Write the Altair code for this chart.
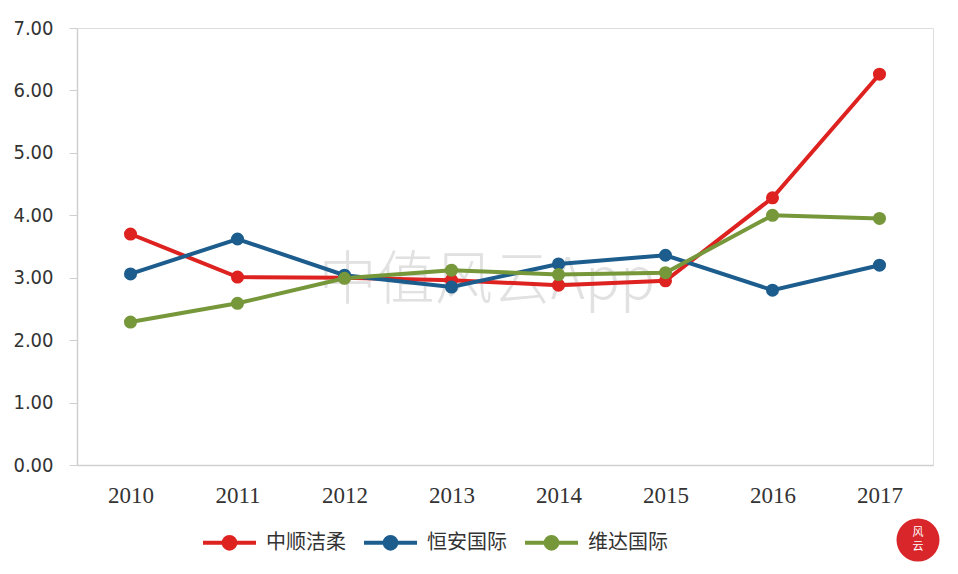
import altair as alt
import pandas as pd

years = ["2010", "2011", "2012", "2013", "2014", "2015", "2016", "2017"]
s_names = ["中顺洁柔", "恒安国际", "维达国际"]
zhongshun = [3.70, 3.01, 3.00, 2.96, 2.88, 2.95, 4.28, 6.26]
hengan = [3.06, 3.62, 3.04, 2.85, 3.22, 3.36, 2.80, 3.20]
vida = [2.29, 2.59, 2.99, 3.12, 3.05, 3.08, 4.00, 3.95]
colors = ["#DD2220", "#1C5D8E", "#76973A"]

rows = []
for name, vals in zip(s_names, [zhongshun, hengan, vida]):
    for y, v in zip(years, vals):
        rows.append({"year": y, "value": v, "series": name})
df = pd.DataFrame(rows)

legend_symbol = "M-1,0L-0.22,0M0.22,0L1,0M-0.22,0A0.22,0.22 0 1,1 0.22,0A0.22,0.22 0 1,1 -0.22,0Z"

color = alt.Color(
    "series:N",
    sort=s_names,
    scale=alt.Scale(domain=s_names, range=colors),
    legend=alt.Legend(
        title=None,
        orient="none",
        direction="horizontal",
        legendX=124,
        legendY=486,
        symbolType=legend_symbol,
        symbolSize=2809,
        symbolStrokeWidth=4,
        labelFont="Noto Sans CJK SC",
        labelFontSize=20,
        labelColor="#333333",
        labelOffset=8,
        columnPadding=10,
        symbolOpacity=1,
    ),
)

x = alt.X(
    "year:O",
    sort=years,
    scale=alt.Scale(paddingInner=0, paddingOuter=0.5, align=0.5),
    axis=alt.Axis(
        title=None,
        labelAngle=0,
        labelFont="Liberation Serif",
        labelFontSize=23,
        labelColor="#333333",
        labelPadding=19,
        ticks=False,
        domainColor="#D0D0D0",
        domainWidth=1.5,
        grid=False,
    ),
)
y = alt.Y(
    "value:Q",
    scale=alt.Scale(domain=[0, 7], nice=False),
    axis=alt.Axis(
        title=None,
        values=[0, 1, 2, 3, 4, 5, 6, 7],
        format=".2f",
        labelFont="DejaVu Sans Condensed",
        labelFontSize=20,
        labelColor="#333333",
        labelPadding=16,
        tickSize=8,
        tickColor="#D0D0D0",
        domainColor="#D0D0D0",
        domainWidth=1.5,
        grid=False,
    ),
)

watermark = alt.Chart(pd.DataFrame({"t": ["中值风云App"]})).mark_text(
    font="Noto Sans CJK SC", fontSize=58, fontWeight=300, color="#AAAAAA", opacity=0.35,
    align="center", baseline="middle"
).encode(x=alt.value(410), y=alt.value(254), text="t:N")

lines = alt.Chart(df).mark_line(
    strokeWidth=4,
    point=alt.OverlayMarkDef(filled=True, size=170, opacity=1),
).encode(x=x, y=y, color=color)

seal = alt.Chart(pd.DataFrame({"t": ["风云"]})).mark_point(
    filled=True, shape="circle", size=1850, color="#D9262A", opacity=1
).encode(x=alt.value(841), y=alt.value(512))
seal_text = alt.Chart(pd.DataFrame({"t": ["风\n云"]})).mark_text(
    font="Noto Sans CJK SC", fontSize=11, color="#FFFFFF", align="center", baseline="middle",
    lineBreak="\n", lineHeight=14
).encode(x=alt.value(841), y=alt.value(505), text="t:N")

chart = alt.layer(watermark, lines, seal, seal_text).properties(
    width=856,
    height=437,
    autosize=alt.AutoSizeParams(type="none"),
    padding={"left": 69, "top": 20, "right": 17, "bottom": 101},
).configure_view(stroke=None).configure(background="white")

chart.save("out.html", embed_options={"renderer": "svg", "actions": False})
